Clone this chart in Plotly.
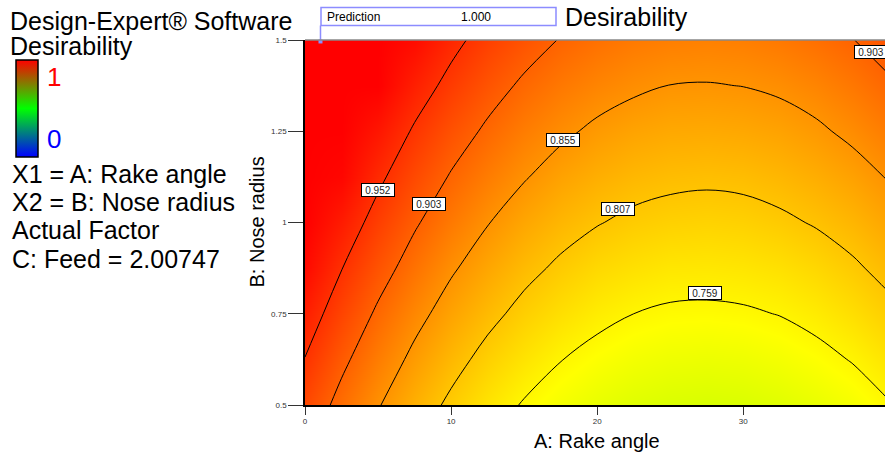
import plotly.graph_objects as go

# ---- data ----
rake_angle = [0, 2.5, 5, 7.5, 10, 12.5, 15, 17.5, 20, 22.5, 25, 27.5, 30, 32.5, 35, 37.5, 40]
nose_radius = [0.5, 0.625, 0.75, 0.875, 1.0, 1.125, 1.25, 1.375, 1.5]
desirability = [
    [0.930, 0.892, 0.858, 0.827, 0.800, 0.776, 0.756, 0.740, 0.728, 0.719, 0.714, 0.712, 0.714, 0.720, 0.729, 0.741, 0.757],
    [0.951, 0.912, 0.878, 0.847, 0.820, 0.796, 0.777, 0.760, 0.748, 0.739, 0.734, 0.732, 0.734, 0.740, 0.749, 0.761, 0.777],
    [0.971, 0.933, 0.898, 0.867, 0.840, 0.817, 0.797, 0.781, 0.768, 0.759, 0.754, 0.753, 0.755, 0.760, 0.769, 0.782, 0.798],
    [0.991, 0.953, 0.919, 0.888, 0.860, 0.837, 0.817, 0.801, 0.788, 0.780, 0.774, 0.773, 0.775, 0.780, 0.789, 0.802, 0.818],
    [1.000, 0.973, 0.939, 0.908, 0.881, 0.857, 0.837, 0.821, 0.809, 0.800, 0.795, 0.793, 0.795, 0.801, 0.810, 0.822, 0.838],
    [1.000, 0.994, 0.959, 0.928, 0.901, 0.878, 0.858, 0.841, 0.829, 0.820, 0.815, 0.813, 0.815, 0.821, 0.830, 0.842, 0.858],
    [1.000, 1.000, 0.979, 0.948, 0.921, 0.898, 0.878, 0.862, 0.849, 0.840, 0.835, 0.834, 0.836, 0.841, 0.850, 0.863, 0.879],
    [1.000, 1.000, 1.000, 0.969, 0.942, 0.918, 0.898, 0.882, 0.870, 0.861, 0.855, 0.854, 0.856, 0.861, 0.870, 0.883, 0.899],
    [1.000, 1.000, 1.000, 0.989, 0.962, 0.938, 0.919, 0.902, 0.890, 0.881, 0.876, 0.874, 0.876, 0.882, 0.891, 0.903, 0.919],
]
contour_levels = [0.759, 0.807, 0.855, 0.903, 0.952]
x_ticks = [0, 10, 20, 30, 40]
y_ticks = [0.5, 0.75, 1, 1.25, 1.5]
y_ticktext = ["0.5", "0.75", "1", "1.25", "1.5"]
pred_x, pred_y, pred_value = 1.06, 1.5, 1.000
feed_value = 2.00747
legend_range = [0, 1]

FONT = "Liberation Sans, Arial, sans-serif"
plot_scale = [[0, "#0000ff"], [0.25, "#00ffff"], [0.5, "#00ff00"], [0.75, "#ffff00"], [1, "#ff0000"]]
legend_scale = [[0, "#0000ff"], [0.5, "#00ff00"], [1, "#ff0000"]]
LAV = "#8c8cff"

# pixel helpers (plot area: left 305, width 580, top 40.5, bottom 405.5)
def px(v):
    return (v - 305) / 580.0

def py(v):
    return (405.5 - v) / 365.0

fig = go.Figure()
fig.add_trace(go.Heatmap(x=rake_angle, y=nose_radius, z=desirability, zmin=0, zmax=1,
                         colorscale=plot_scale, zsmooth="best", showscale=False, hoverinfo="skip"))
step = (contour_levels[-1] - contour_levels[0]) / (len(contour_levels) - 1)
fig.add_trace(go.Contour(x=rake_angle, y=nose_radius, z=desirability,
                         contours=dict(start=contour_levels[0], end=contour_levels[-1] + 1e-4, size=step,
                                       coloring="none", showlabels=False),
                         line=dict(color="black", width=1, smoothing=1.0),
                         showscale=False, hoverinfo="skip"))
# legend colour bar (dummy heatmap outside visible range)
fig.add_trace(go.Heatmap(x=[200, 201], y=[200], z=[legend_range], zmin=0, zmax=1,
                         colorscale=legend_scale, showscale=True, hoverinfo="skip",
                         colorbar=dict(x=px(16), xanchor="left", y=py(108.5), yanchor="middle",
                                       len=97, lenmode="pixels", thickness=22, thicknessmode="pixels",
                                       xpad=0, ypad=0, outlinecolor="black", outlinewidth=1.5,
                                       showticklabels=False, ticks="")))
# prediction flag point
fig.add_trace(go.Scatter(x=[pred_x], y=[pred_y - 0.004], mode="markers", cliponaxis=False,
                         marker=dict(symbol="square", size=4, color=LAV), hoverinfo="skip", showlegend=False))

ann = []
def txt(text, x, y, size=25, color="black", xanchor="left", **kw):
    ann.append(dict(text=text, x=x, y=y, xref="paper", yref="paper", showarrow=False,
                    xanchor=xanchor, yanchor="middle", font=dict(family=FONT, size=size, color=color), **kw))

txt("Design-Expert® Software", px(8), py(22))
txt("Desirability", px(8), py(47))
txt("1", px(45), py(78), size=26, color="#ff0000")
txt("0", px(45), py(139), size=26, color="#0000ff")
txt("X1 = A: Rake angle", px(10), py(174))
txt("X2 = B: Nose radius", px(10), py(202))
txt("Actual Factor", px(10), py(230))
txt("C: Feed = %.5f" % feed_value, px(10), py(259))
txt("Desirability", px(563), py(18))
txt("Prediction", px(325), py(17.5), size=12)
txt("%.3f" % pred_value, px(476), py(17.5), size=12, xanchor="center")
txt("A: Rake angle", px(597), py(441), size=20, xanchor="center")
txt("B: Nose radius", px(256), py(223), size=20, xanchor="center", textangle=-90)
txt(str(x_ticks[-1]), 40 * 14.61 / 580.0, py(427), size=8, color="#333", xanchor="center")

label_pos = [(4.99, 1.089), (8.48, 1.051), (17.63, 1.226), (21.39, 1.037), (27.39, 0.808), (38.76, 1.466)]
label_val = [contour_levels[4], contour_levels[3], contour_levels[2], contour_levels[1], contour_levels[0], contour_levels[3]]
for (lx, ly), v in zip(label_pos, label_val):
    ann.append(dict(text="%.3f" % v, x=lx, y=ly, xref="x", yref="y", showarrow=False,
                    font=dict(family=FONT, size=10, color="#222"), bgcolor="white",
                    bordercolor="black", borderwidth=1, borderpad=0, width=32, height=12))

shapes = [
    dict(type="rect", xref="paper", yref="paper", x0=px(321), x1=px(556), y0=py(26), y1=py(8),
         line=dict(color=LAV, width=1.5)),
    dict(type="line", xref="x", yref="paper", x0=pred_x, x1=pred_x, y0=py(26), y1=py(41),
         line=dict(color=LAV, width=1.5)),
    dict(type="line", xref="paper", yref="paper", x0=0, x1=1, y0=1, y1=1,
         line=dict(color="#888", width=1.5)),
]

fig.update_layout(
    width=885, height=459, margin=dict(l=305, r=0, t=40, b=54, autoexpand=False),
    paper_bgcolor="white", plot_bgcolor="white", showlegend=False,
    annotations=ann, shapes=shapes,
    xaxis=dict(range=[0, 580 / 14.61], tickvals=x_ticks[:-1], ticks="outside", ticklen=8, tickwidth=1,
               tickcolor="#333", showline=True, linecolor="black", linewidth=1.5, showgrid=False,
               zeroline=False, tickfont=dict(family=FONT, size=8, color="#333")),
    yaxis=dict(range=[0.5, 1.5], tickvals=y_ticks, ticktext=y_ticktext, ticks="outside", ticklen=15,
               tickwidth=1, tickcolor="#333", showline=True, linecolor="black", linewidth=1.5,
               showgrid=False, zeroline=False, tickfont=dict(family=FONT, size=8, color="#333")),
)
fig.write_html("out.html")
